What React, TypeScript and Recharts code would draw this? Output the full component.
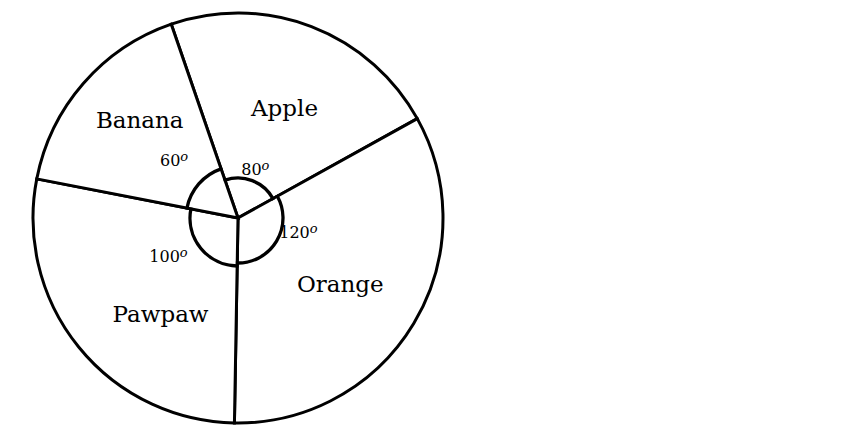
import React from 'react';
import { PieChart, Pie, Cell } from 'recharts';

const fruits = ['Apple', 'Orange', 'Pawpaw', 'Banana'];
const degrees = [80, 120, 100, 60];
const degreeText = ['80', '120', '100', '60'];

const data = fruits.map((name, i) => ({ name, value: degrees[i] }));

// hand placement of the texts: [angle nudge from slice middle, radius px]
const nameSpots = [[-2, 119], [-2, 122], [12, 123], [-4, 139]];
const degSpots = [[1.5, 52], [18, 62], [-10.6, 79], [-1, 86]];
// the little angle arcs are not all the same size
const arcRadii = [40, 45, 48, 52];

const CX = 238;
const CY = 218;
const R = 205;
const START = 109;
const INK = '#000';
const FONT = '"DejaVu Serif", serif';
const RAD = Math.PI / 180;

const spot = (cx: number, cy: number, angle: number, r: number) => ({
  x: cx + r * Math.cos(-angle * RAD),
  y: cy + r * Math.sin(-angle * RAD),
});

const renderLabel = (props: any) => {
  const { cx, cy, midAngle, index } = props;
  const [da, r] = nameSpots[index];
  const p = spot(cx, cy, midAngle + da, r);
  const [dd, rd] = degSpots[index];
  const q = spot(cx, cy, midAngle + dd, rd);
  return (
    <g key={`lbl-${index}`}>
      <text x={p.x} y={p.y + 8} textAnchor="middle" fontFamily={FONT} fontSize={23} fill={INK}>
        {fruits[index]}
      </text>
      <text x={q.x} y={q.y + 6} textAnchor="middle" fontFamily={FONT} fontSize={16} fill={INK}>
        {degreeText[index]}
        <tspan dy={-5} fontSize={13} fontStyle="italic">o</tspan>
      </text>
    </g>
  );
};

export default function App() {
  return (
    <div style={{ position: 'absolute', left: 0, top: 0, width: 864, height: 432, background: '#fff' }}>
      <PieChart width={864} height={432} margin={{ top: 0, right: 0, bottom: 0, left: 0 }}>
        <Pie
          data={data}
          dataKey="value"
          nameKey="name"
          cx={CX}
          cy={CY}
          innerRadius={0}
          outerRadius={R}
          startAngle={START}
          endAngle={START - 360}
          fill="#fff"
          stroke={INK}
          strokeWidth={3}
          label={renderLabel}
          labelLine={false}
          isAnimationActive={false}
        />
        {arcRadii.map((r, k) => (
          <Pie
            key={`arc-${k}`}
            data={data}
            dataKey="value"
            cx={CX}
            cy={CY}
            innerRadius={r - 0.25}
            outerRadius={r + 0.25}
            startAngle={START}
            endAngle={START - 360}
            fill="none"
            stroke="none"
            isAnimationActive={false}
          >
            {data.map((d, i) => (
              <Cell key={d.name} fill="none" stroke={i === k ? INK : 'none'} strokeWidth={2.8} />
            ))}
          </Pie>
        ))}
      </PieChart>
    </div>
  );
}
